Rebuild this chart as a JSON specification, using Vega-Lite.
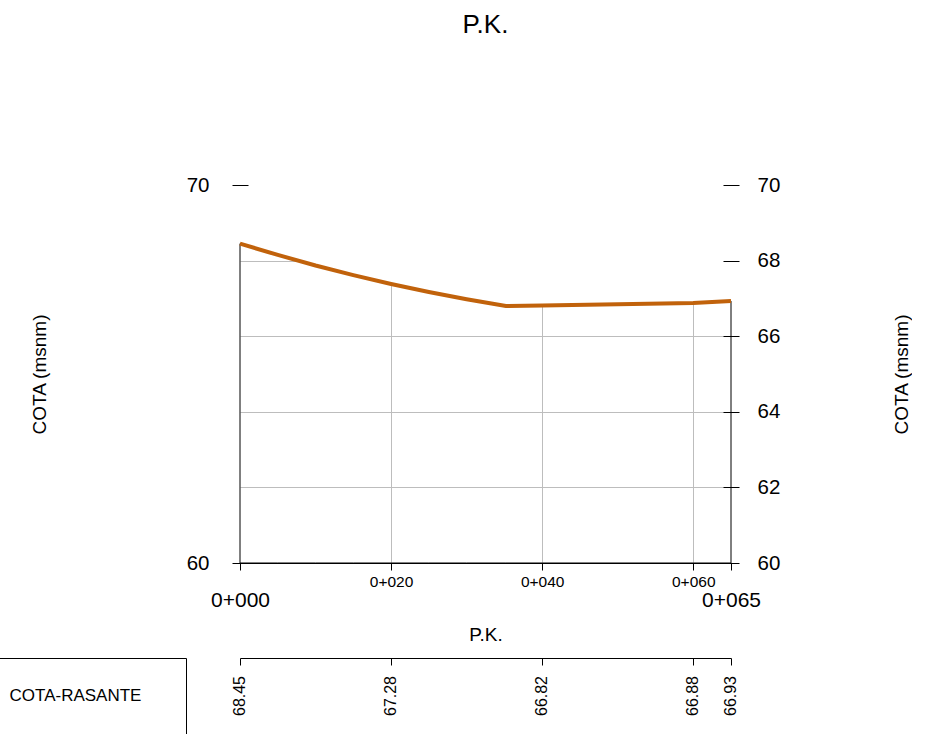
{
  "$schema": "https://vega.github.io/schema/vega-lite/v6.json",
  "padding": {"left": -2, "top": 12, "right": 0, "bottom": 0},
  "background": "white",
  "config": {
    "view": {"stroke": null},
    "font": "Liberation Sans",
    "axis": {
      "labelFont": "Liberation Sans",
      "titleFont": "Liberation Sans",
      "labelColor": "black",
      "titleColor": "black",
      "tickColor": "black",
      "domainColor": "black",
      "titleFontWeight": "normal"
    },
    "title": {"font": "Liberation Sans", "color": "black", "fontWeight": "normal"},
    "text": {"font": "Liberation Sans", "color": "black"}
  },
  "datasets": {
    "perfil": [
      {"pk": 0, "cota": 68.45},
      {"pk": 5, "cota": 68.15},
      {"pk": 10, "cota": 67.87},
      {"pk": 15, "cota": 67.615},
      {"pk": 20, "cota": 67.38},
      {"pk": 25, "cota": 67.168},
      {"pk": 30, "cota": 66.976},
      {"pk": 35.2, "cota": 66.8},
      {"pk": 40, "cota": 66.81},
      {"pk": 60, "cota": 66.88},
      {"pk": 65, "cota": 66.93}
    ],
    "etiquetas": [
      {"pk": 0, "cota": 68.45},
      {"pk": 20, "cota": 67.28},
      {"pk": 40, "cota": 66.82},
      {"pk": 60, "cota": 66.88},
      {"pk": 65, "cota": 66.93}
    ],
    "filas": [
      {"fila": "COTA-RASANTE"}
    ]
  },
  "bounds": "flush",
  "columns": 2,
  "spacing": {"row": 95, "column": 54},
  "concat": [
    {
      "width": 187,
      "height": 378,
      "data": {"name": "filas"},
      "mark": {"type": "text", "text": ""}
    },
    {
      "width": 491,
      "height": 378,
      "title": {"text": "P.K.", "fontSize": 26, "offset": 137, "anchor": "middle", "frame": "group"},
      "data": {"name": "perfil"},
      "encoding": {
        "x": {
          "field": "pk",
          "type": "quantitative",
          "scale": {"domain": [0, 65], "nice": false, "zero": false},
          "axis": {
            "values": [0, 20, 40, 60, 65],
            "labelExpr": "'0+' + format(datum.value, '03d')",
            "labelFontSize": {"condition": {"test": "datum.value == 0 || datum.value == 65", "value": 21}, "value": 15.5},
            "labelPadding": {"condition": {"test": "datum.value == 0 || datum.value == 65", "value": 19}, "value": 4},
            "labelFlush": false,
            "labelOverlap": false,
            "labelBound": false,
            "tickSize": 7,
            "domain": true,
            "grid": true,
            "gridColor": "#bdbdbd",
            "gridOpacity": {"condition": {"test": "datum.value == 0 || datum.value == 65", "value": 0}, "value": 1},
            "title": "P.K.",
            "titleFontSize": 19,
            "titlePadding": 15,
            "zindex": 0
          }
        }
      },
      "layer": [
        {
          "mark": {"type": "area", "color": "white", "opacity": 1},
          "encoding": {
            "y": {
              "field": "cota",
              "type": "quantitative",
              "scale": {"domain": [60, 70], "nice": false, "zero": false},
              "axis": {
                "orient": "left",
                "values": [62, 64, 66, 68],
                "grid": true,
                "gridColor": "#bdbdbd",
                "domain": false,
                "ticks": false,
                "labels": false,
                "title": null,
                "zindex": 0
              }
            },
            "y2": {"datum": 70}
          }
        },
        {
          "mark": {"type": "area", "fillOpacity": 0, "stroke": "black", "strokeWidth": 1},
          "encoding": {
            "y": {
              "field": "cota",
              "type": "quantitative",
              "scale": {"domain": [60, 70], "nice": false, "zero": false},
              "axis": {
                "orient": "left",
                "values": [60, 70],
                "grid": false,
                "domain": false,
                "offset": -8,
                "tickSize": 16,
                "labelFontSize": 20.5,
                "labelPadding": 23,
                "title": "COTA (msnm)",
                "titleFontSize": 19,
                "titlePadding": 137,
                "zindex": 1
              }
            },
            "y2": {"datum": 60}
          }
        },
        {
          "mark": {"type": "line", "color": "#c1620b", "strokeWidth": 4},
          "encoding": {
            "y": {
              "field": "cota",
              "type": "quantitative",
              "scale": {"domain": [60, 70], "nice": false, "zero": false},
              "axis": {
                "orient": "right",
                "values": [60, 62, 64, 66, 68, 70],
                "grid": false,
                "domain": false,
                "offset": -8,
                "tickSize": 16,
                "labelFontSize": 20.5,
                "labelPadding": 18,
                "title": "COTA (msnm)",
                "titleFontSize": 19,
                "titleAngle": 270,
                "titlePadding": 132,
                "zindex": 1
              }
            }
          }
        }
      ],
      "resolve": {"scale": {"y": "independent"}, "axis": {"y": "independent"}}
    },
    {
      "width": 187,
      "height": 76,
      "view": {"stroke": "black", "strokeWidth": 1},
      "data": {"name": "filas"},
      "mark": {"type": "text", "fontSize": 17, "align": "center", "baseline": "middle", "dx": -17},
      "encoding": {
        "text": {"field": "fila", "type": "nominal"}
      }
    },
    {
      "width": 491,
      "height": 76,
      "data": {"name": "etiquetas"},
      "mark": {"type": "text", "angle": 270, "fontSize": 16, "align": "center", "baseline": "middle"},
      "encoding": {
        "x": {
          "field": "pk",
          "type": "quantitative",
          "scale": {"domain": [0, 65], "nice": false, "zero": false},
          "axis": {
            "orient": "top",
            "values": [0, 20, 40, 60, 65],
            "labels": false,
            "grid": false,
            "domain": true,
            "tickSize": -7,
            "title": null
          }
        },
        "text": {"field": "cota", "type": "quantitative", "format": ".2f"}
      }
    }
  ]
}
